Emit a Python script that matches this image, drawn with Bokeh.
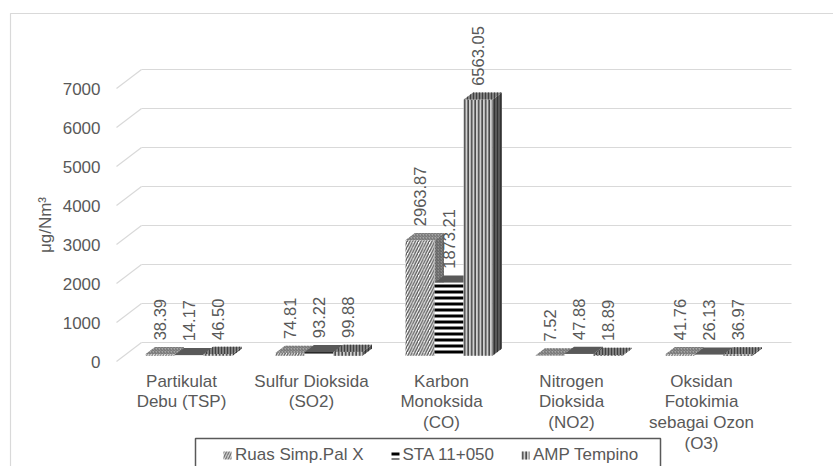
import math
from bokeh.plotting import figure
from bokeh.models import Range1d, LinearAxis, FixedTicker, Legend, LegendItem, ColumnDataSource
from bokeh.core.properties import value
from bokeh.embed import file_html
from bokeh.resources import INLINE

# ---------------- data ----------------
categories = ["Partikulat\nDebu (TSP)", "Sulfur Dioksida\n(SO2)", "Karbon\nMonoksida\n(CO)",
              "Nitrogen\nDioksida\n(NO2)", "Oksidan\nFotokimia\nsebagai Ozon\n(O3)"]
series_names = ["Ruas Simp.Pal X", "STA 11+050", "AMP Tempino"]
ruas = [38.39, 74.81, 2963.87, 7.52, 41.76]
sta = [14.17, 93.22, 1873.21, 47.88, 26.13]
amp = [46.50, 99.88, 6563.05, 18.89, 36.97]
y_ticks = [0, 1000, 2000, 3000, 4000, 5000, 6000, 7000]
y_title = "μg/Nm³"

# ---------------- layout ----------------
W, H = 833, 466
Y0_PX = 361.0                 # canvas y of value 0 (front plane)
Y_PX_PER_UNIT = 273.0 / 7000  # px per data unit
X0_PX = 116.0                 # canvas x of the category axis start (front plane)
X_PX_PER_CAT = 130.0
DEPTH_DX, DEPTH_DY = 25.0, 19.0
BAR_W_PX = 29.0
BAR_FRONT, BAR_BACK = 0.3, 0.68
FONT = "Liberation Sans"
TXT = "#595959"
GRID = "#d9d9d9"


def dx(px):
    return px / X_PX_PER_CAT


def dy(px):
    return px / Y_PX_PER_UNIT


def cx(canvas_x):
    return (canvas_x - X0_PX) / X_PX_PER_CAT


def cy(canvas_y):
    return (Y0_PX - canvas_y) / Y_PX_PER_UNIT


p = figure(width=W, height=H, output_backend="svg", toolbar_location=None,
           x_axis_type=None, y_axis_type=None, title=None,
           x_range=Range1d(cx(0), cx(W)), y_range=Range1d(cy(H), cy(0)),
           min_border=0, min_border_left=0, min_border_right=0,
           min_border_top=0, min_border_bottom=0)
p.outline_line_color = None
p.background_fill_color = "white"
p.border_fill_color = "white"

# outer chart border (top and left visible)
p.line(x=[cx(10), cx(10), cx(W + 20)], y=[cy(H + 20), cy(13), cy(13)],
       line_color=GRID, line_width=1.2)

# 3D back wall gridlines + side diagonals
n = len(categories)
bx = dx(DEPTH_DX)
by = dy(DEPTH_DY)
grid_src = ColumnDataSource(dict(
    x0=[0.0] * len(y_ticks), y0=[t for t in y_ticks],
    x1=[bx] * len(y_ticks), y1=[t + by for t in y_ticks],
    x2=[n + bx] * len(y_ticks)))
p.segment(x0="x0", y0="y0", x1="x1", y1="y1", source=grid_src, line_color=GRID, line_width=1.2)
p.segment(x0="x1", y0="y1", x1="x2", y1="y1", source=grid_src, line_color=GRID, line_width=1.2)

# y axis at a fixed location (front left corner)
yaxis = LinearAxis(fixed_location=0, ticker=FixedTicker(ticks=y_ticks))
yaxis.axis_line_color = None
yaxis.major_tick_line_color = None
yaxis.minor_tick_line_color = None
yaxis.major_label_standoff = 10
yaxis.major_label_text_font = FONT
yaxis.major_label_text_font_size = "17px"
yaxis.major_label_text_color = TXT
p.add_layout(yaxis, "left")

# y title
p.text(x=[cx(45)], y=[(y_ticks[0] + y_ticks[-1]) / 2], text=[y_title], angle=math.pi / 2,
       text_align="center", text_baseline="middle", text_font=value(FONT),
       text_font_size=value("17px"), text_color=TXT)

# ---------------- bars ----------------
styles = [
    dict(front=dict(fill_color="white", hatch_pattern="/", hatch_color="#595959", hatch_scale=5.5, hatch_weight=1.4),
         top=dict(fill_color="#a6a6a6", hatch_pattern="/", hatch_color="#6e6e6e", hatch_scale=3, hatch_weight=1),
         side=dict(fill_color="#8c8c8c", hatch_pattern="/", hatch_color="#5e5e5e", hatch_scale=3, hatch_weight=1)),
    dict(front=dict(fill_color="white", hatch_pattern="-", hatch_color="black", hatch_scale=6, hatch_weight=3),
         top=dict(fill_color="#595959"),
         side=dict(fill_color="#404040")),
    dict(front=dict(fill_color="#d0d0d0", hatch_pattern="|", hatch_color="#4a4a4a", hatch_scale=3.5, hatch_weight=1.7),
         top=dict(fill_color="#7f7f7f", hatch_pattern="|", hatch_color="#404040", hatch_scale=3, hatch_weight=1),
         side=dict(fill_color="#595959", hatch_pattern="|", hatch_color="#333333", hatch_scale=3, hatch_weight=1)),
]

bw = dx(BAR_W_PX)
fdx, fdy = dx(DEPTH_DX * BAR_FRONT), dy(DEPTH_DY * BAR_FRONT)
ddx, ddy = dx(DEPTH_DX * (BAR_BACK - BAR_FRONT)), dy(DEPTH_DY * (BAR_BACK - BAR_FRONT))

legend_items = []
label_x, label_y, label_t = [], [], []
for s, vals in enumerate([ruas, sta, amp]):
    left = [i + 0.5 + fdx + (s - 1.5) * bw for i in range(n)]
    right = [l + bw for l in left]
    bottom = [fdy] * n
    top = [v + fdy for v in vals]
    side_xs = [[r, r + ddx, r + ddx, r] for r in right]
    side_ys = [[b, b + ddy, t + ddy, t] for b, t in zip(bottom, top)]
    top_xs = [[l, r, r + ddx, l + ddx] for l, r in zip(left, right)]
    top_ys = [[t, t, t + ddy, t + ddy] for t in top]
    st = styles[s]
    p.patches(xs=side_xs, ys=side_ys, line_color=None, **st["side"])
    p.patches(xs=top_xs, ys=top_ys, line_color=None, **st["top"])
    fr = p.quad(left=left, right=right, bottom=bottom, top=top, line_color=None, **st["front"])
    legend_items.append(LegendItem(label=series_names[s], renderers=[fr]))
    for l, t, v in zip(left, top, vals):
        label_x.append(l + bw / 2)
        label_y.append(t + dy(14))
        label_t.append(f"{v:.2f}")

p.text(x=label_x, y=label_y, text=label_t, angle=math.pi / 2, text_align="left",
       text_baseline="middle", text_font=value(FONT), text_font_size=value("16.5px"), text_color=TXT)

# category labels
p.text(x=[i + 0.5 for i in range(n)], y=[cy(371)] * n, text=categories, text_align="center",
       text_baseline="top", text_line_height=1.09, text_font=value(FONT),
       text_font_size=value("17px"), text_color=TXT)

# legend box
p.quad(left=[cx(195)], right=[cx(660)], top=[cy(438)], bottom=[cy(H + 30)],
       fill_color=None, line_color="#595959", line_width=1.5)

legend = Legend(items=legend_items, orientation="horizontal", location=(222, 1),
                border_line_color=None, background_fill_alpha=0, padding=0, margin=0,
                spacing=26, glyph_width=10, glyph_height=10, label_standoff=3,
                label_text_font=FONT, label_text_font_size="17px", label_text_color=TXT)
p.add_layout(legend)

open("out.html", "w").write(file_html(p, INLINE))
